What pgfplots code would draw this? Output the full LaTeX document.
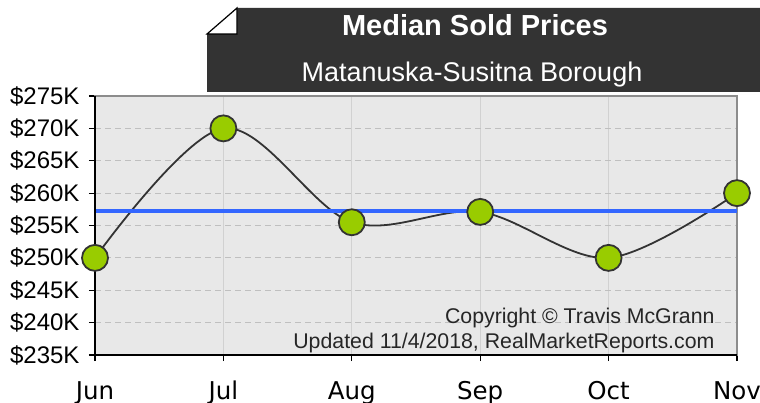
\documentclass[border=0pt]{standalone}
\usepackage{fontspec}
\setmainfont{Liberation Sans}
\newfontfamily\dejavu{DejaVu Sans}
\usepackage{pgfplots}
\pgfplotsset{compat=1.18}
\definecolor{plotbg}{HTML}{E8E8E8}
\definecolor{titlebg}{HTML}{333333}
\definecolor{markfill}{HTML}{99CC00}
\definecolor{avgblue}{HTML}{3366FF}
\definecolor{curve}{HTML}{333333}
\begin{document}
\begin{tikzpicture}[x=1pt,y=1pt]
\path[use as bounding box] (0,0) rectangle (760,402);
% title box
\fill[titlebg] (207,368) -- (237,394) -- (760,394) -- (760,310) -- (207,310) -- cycle;
\draw[fill=white, line width=1.2, line join=miter] (207,368) -- (237,394) -- (237,368) -- cycle;
\node[text=white, font=\bfseries\fontsize{29}{29}\selectfont, anchor=base] at (475,366) {Median Sold Prices};
\node[text=white, font=\fontsize{27}{27}\selectfont, anchor=base] at (472,320) {Matanuska-Susitna Borough};
\begin{axis}[
  at={(95pt,47pt)}, anchor=south west,
  scale only axis, width=642pt, height=259pt,
  xmin=0, xmax=5, ymin=235, ymax=275,
  clip=false,
  axis background/.style={fill=plotbg},
  axis line style={draw=black!45, line width=1.2},
  xtick={0,1,2,3,4,5},
  xticklabels={Jun,Jul,Aug,Sep,Oct,Nov},
  ytick={235,240,245,250,255,260,265,270,275},
  yticklabels={\$235K,\$240K,\$245K,\$250K,\$255K,\$260K,\$265K,\$270K,\$275K},
  tick pos=left,
  tick align=outside,
  major tick length=6pt,
  every tick/.style={black, line width=1.2},
  xmajorgrids, ymajorgrids,
  every axis x grid/.append style={draw=black!18, line width=0.8},
  every axis y grid/.append style={draw=black!25, dashed, dash pattern=on 6pt off 4pt, line width=0.8},
  yticklabel style={font=\fontsize{24}{24}\selectfont, text=black, anchor=east, xshift=-6pt},
  xticklabel style={font=\dejavu\fontsize{24.5}{24.5}\selectfont, text=black, anchor=base, yshift=-38pt},
]
\addplot[smooth, tension=0.55, color=curve, line width=1.8, mark=*, mark size=13pt,
  mark options={fill=markfill, draw=curve, line width=1.8, solid}]
  coordinates {(0,250) (1,270) (2,255.5) (3,257.1) (4,250) (5,260)};
\addplot[avgblue, line width=4pt, no markers] coordinates {(0,257.2) (5,257.2)};
\draw[black, line width=1.5] (rel axis cs:0,1) -- (rel axis cs:0,0) -- (rel axis cs:1,0);
\end{axis}
\node[font=\fontsize{21.3}{21.3}\selectfont, anchor=base east, text=black!85] at (718,79) {Copyright \textcopyright{} Travis McGrann};
\node[font=\fontsize{21.3}{21.3}\selectfont, anchor=base east, text=black!85] at (718,54) {Updated 11/4/2018, RealMarketReports.com};
\end{tikzpicture}
\end{document}
